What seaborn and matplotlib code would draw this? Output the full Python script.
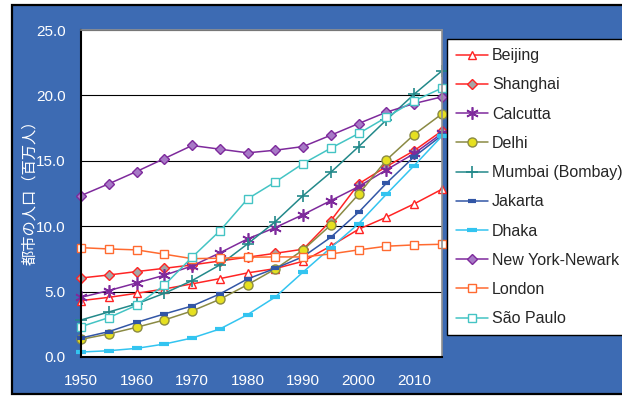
import matplotlib
matplotlib.use("Agg")
import matplotlib.pyplot as plt
import seaborn as sns
from matplotlib.patches import Rectangle

# Urban agglomeration population, millions, every 5 years
years = list(range(1950, 2016, 5))
beijing = [4.31, 4.56, 4.87, 5.20, 5.59, 5.99, 6.43, 6.76, 7.32, 8.49, 9.77, 10.69, 11.71, 12.83]
shanghai = [6.04, 6.27, 6.53, 6.78, 7.04, 7.34, 7.63, 7.93, 8.24, 10.43, 13.24, 14.56, 15.78, 17.29]
calcutta = [4.56, 5.08, 5.66, 6.25, 6.96, 7.96, 9.03, 9.90, 10.89, 11.96, 13.03, 14.31, 15.56, 17.10]
delhi = [1.35, 1.76, 2.27, 2.83, 3.52, 4.41, 5.53, 6.73, 8.19, 10.10, 12.45, 15.07, 17.01, 18.59]
mumbai = [2.83, 3.44, 4.06, 4.87, 5.84, 7.04, 8.65, 10.35, 12.34, 14.13, 16.09, 18.13, 20.10, 21.88]
jakarta = [1.45, 1.94, 2.65, 3.29, 3.90, 4.82, 5.97, 6.78, 7.67, 9.16, 11.07, 13.29, 15.32, 16.95]
dhaka = [0.38, 0.48, 0.66, 0.99, 1.45, 2.14, 3.24, 4.59, 6.50, 8.36, 10.20, 12.45, 14.64, 16.89]
new_york = [12.34, 13.24, 14.18, 15.17, 16.17, 15.89, 15.61, 15.81, 16.09, 16.96, 17.85, 18.72, 19.38, 19.89]
london = [8.36, 8.26, 8.19, 7.86, 7.52, 7.55, 7.63, 7.65, 7.65, 7.88, 8.19, 8.47, 8.57, 8.62]
sao_paulo = [2.32, 3.01, 3.95, 5.49, 7.63, 9.64, 12.09, 13.39, 14.79, 15.97, 17.09, 18.33, 19.59, 20.56]

cities = ["Beijing", "Shanghai", "Calcutta", "Delhi", "Mumbai (Bombay)",
          "Jakarta", "Dhaka", "New York-Newark", "London", "São Paulo"]
series = [beijing, shanghai, calcutta, delhi, mumbai,
          jakarta, dhaka, new_york, london, sao_paulo]

y_ticks = [0, 5, 10, 15, 20, 25]
x_ticks = list(range(1950, 2016, 5))
x_labels = [str(y) if y % 10 == 0 else "" for y in x_ticks]
y_label = "都市の人口（百万人）"

# line colour, marker, face colour, marker size, edge width
styles = {
    "Beijing": ("#FF2424", "^", "white", 6.0, 1.0),
    "Shanghai": ("#FF2424", "D", "#A6A6A6", 4.6, 1.0),
    "Calcutta": ("#7E2A9C", (6, 2, 0), "#7E2A9C", 9.0, 1.2),
    "Delhi": ("#8A8A44", "o", "#E6E020", 6.5, 1.0),
    "Mumbai (Bombay)": ("#23898A", "+", "#23898A", 8.5, 1.2),
    "Jakarta": ("#3256A6", "_", "#3256A6", 5.5, 3.0),
    "Dhaka": ("#33C4F0", "_", "#33C4F0", 7.0, 3.0),
    "New York-Newark": ("#7E2A9C", "D", "#A77AC6", 4.6, 1.0),
    "London": ("#FF6A30", "s", "white", 6.0, 1.0),
    "São Paulo": ("#44C4C4", "s", "white", 6.0, 1.0),
}

sns.set_theme(style="white")
plt.rcParams["font.family"] = ["Liberation Sans", "DejaVu Sans"]

W, H = 622, 396
fig = plt.figure(figsize=(W / 100, H / 100), dpi=100)
fig.patch.set_facecolor("white")

# blue panel behind the chart
fig.patches.append(Rectangle((12 / W, 1 - 394 / H), 1.0, (394 - 5) / H,
                             transform=fig.transFigure, facecolor="#3D6BB3",
                             edgecolor="black", linewidth=1.6, zorder=-10))

ax = fig.add_axes([81 / W, 1 - 357 / H, (442 - 81) / W, (357 - 30) / H])
ax.set_facecolor("white")

for name, vals in zip(cities, series):
    color, marker, face, ms, mew = styles[name]
    sns.lineplot(x=years, y=vals, ax=ax, color=color, linewidth=1.1,
                 marker=marker, markersize=ms, markerfacecolor=face,
                 markeredgecolor=color, markeredgewidth=mew,
                 label=name, clip_on=False)

ax.set_xlim(1950, 2015)
ax.set_ylim(0, 25)
ax.set_yticks(y_ticks)
ax.set_yticklabels([f"{v:.1f}" for v in y_ticks])
ax.set_xticks(x_ticks)
ax.set_xticklabels(x_labels)
ax.yaxis.grid(True, color="black", linewidth=0.8)
ax.set_axisbelow(True)

ax.tick_params(axis="x", direction="out", length=4, width=1, color="black",
               labelcolor="white", labelsize=11, pad=8)
ax.tick_params(axis="y", length=0, labelcolor="white", labelsize=11, pad=11)

for side in ("left", "bottom"):
    ax.spines[side].set_color("black")
    ax.spines[side].set_linewidth(1.5)
for side in ("top", "right"):
    ax.spines[side].set_color("#909090")
    ax.spines[side].set_linewidth(1.2)

ax.set_xlabel("")
ax.set_ylabel(y_label, color="white", fontsize=11,
              family=["Noto Sans CJK JP", "DejaVu Sans"])
ax.yaxis.set_label_coords((38 - 81) / 361, (357 - 189) / 327)

leg = ax.legend(loc="upper left", bbox_to_anchor=(447 / W, 1 - 39 / H),
                bbox_transform=fig.transFigure, frameon=True, fancybox=False,
                framealpha=1, edgecolor="black", fontsize=11.5,
                handlelength=2.0, handletextpad=0.25, borderpad=0.58,
                labelspacing=0.89, borderaxespad=0)
leg.get_frame().set_linewidth(1.0)

fig.savefig("out.png", dpi=100)
